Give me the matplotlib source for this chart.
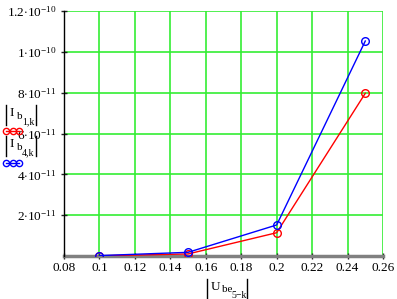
import numpy as np
import matplotlib
matplotlib.use('Agg')
import matplotlib.pyplot as plt
from matplotlib.lines import Line2D
from matplotlib.ticker import FixedLocator, FuncFormatter

plt.rcParams['font.family'] = 'Liberation Serif'
plt.rcParams['mathtext.fontset'] = 'custom'
plt.rcParams['mathtext.rm'] = 'Liberation Serif'
plt.rcParams['mathtext.it'] = 'Liberation Serif'

# data
u_be = [0.10, 0.15, 0.20, 0.25]
i_b1 = [1.0e-13, 1.0e-12, 1.14e-11, 7.97e-11]
i_b4 = [2.0e-13, 1.8e-12, 1.52e-11, 1.053e-10]

x_ticks = [0.08, 0.10, 0.12, 0.14, 0.16, 0.18, 0.20, 0.22, 0.24, 0.26]
y_ticks = [2e-11, 4e-11, 6e-11, 8e-11, 1e-10, 1.2e-10]
y_tick_text = [r'$2{\cdot}10^{-11}$', r'$4{\cdot}10^{-11}$', r'$6{\cdot}10^{-11}$',
               r'$8{\cdot}10^{-11}$', r'$1{\cdot}10^{-10}$', r'$1.2{\cdot}10^{-10}$']

W, H = 397, 299
fig = plt.figure(figsize=(W / 100, H / 100), dpi=100)
ax = fig.add_axes([64 / W, 1 - 256 / H, 319 / W, 245 / H])


def fx(px):
    return px / W


def fy(py):
    return 1 - py / H


grn = '#33ee33'
for xv in x_ticks[1:]:
    ax.axvline(xv, color=grn, lw=1.2, zorder=1)
for yv in y_ticks:
    ax.axhline(yv, color=grn, lw=1.2, zorder=1)

ax.plot(u_be, i_b1, color='red', lw=1, marker='o', ms=5.5, mfc='none',
        mew=1, zorder=3)
ax.plot(u_be, i_b4, color='blue', lw=1, marker='o', ms=5.5, mfc='none',
        mew=1, zorder=3)

ax.set_xlim(0.08, 0.26)
ax.set_ylim(0, 1.2e-10)
ax.xaxis.set_major_locator(FixedLocator(x_ticks))
ax.xaxis.set_major_formatter(FuncFormatter(lambda v, p: ('%.2f' % v).rstrip('0')))
ax.set_yticks(y_ticks)
ax.set_yticklabels(y_tick_text)

for s in ['top', 'right']:
    ax.spines[s].set_visible(False)
ax.spines['left'].set_color('black')
ax.spines['left'].set_linewidth(1)
ax.spines['bottom'].set_color('#808080')
ax.spines['bottom'].set_linewidth(2.5)
ax.spines['bottom'].set_zorder(2)
ax.tick_params(axis='both', direction='inout', length=5, width=1,
               color='#222222', labelsize=9.5)
ax.tick_params(axis='y', pad=3)
ax.tick_params(axis='x', pad=2)


def abs_label(x0, y0, main, sub, subsub, x_sub, x_subsub, x_right, h=20):
    # |main_{sub_{subsub}}| drawn piece by piece, y0 = top of the bars (px)
    bar = dict(transform=fig.transFigure, color='black', lw=1)
    fig.add_artist(Line2D([fx(x0), fx(x0)], [fy(y0), fy(y0 + h)], **bar))
    fig.add_artist(Line2D([fx(x_right), fx(x_right)], [fy(y0), fy(y0 + h)], **bar))
    fig.text(fx(x0 + 3.5), fy(y0 + 11), main, fontsize=9.5, va='baseline')
    fig.text(fx(x_sub), fy(y0 + 13.5), sub, fontsize=8, va='baseline')
    fig.text(fx(x_subsub), fy(y0 + 19), subsub, fontsize=7, va='baseline')


def key(y, color):
    fig.add_artist(Line2D([fx(6), fx(12.5), fx(19)], [fy(y)] * 3,
                          transform=fig.transFigure, color=color, lw=1,
                          marker='o', ms=4.5, mfc='none'))


abs_label(6, 105, 'I', 'b', '1,k', 17, 22, 36)
key(131, 'red')
abs_label(6, 136, 'I', 'b', '4,k', 17, 22, 36)
key(163, 'blue')

abs_label(207, 279, 'U', 'be', '5\u2212k', 222, 231, 247, h=19)

fig.savefig('out.png', dpi=100)
